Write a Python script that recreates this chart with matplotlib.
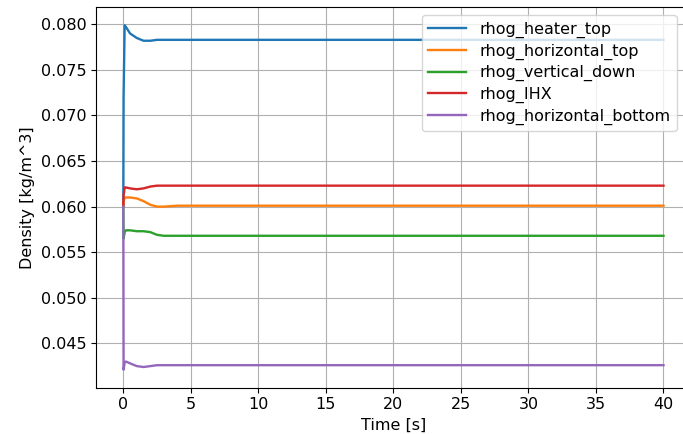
import matplotlib.pyplot as plt

# time points [s]
time = [0, 0.02, 0.1, 0.2, 0.5, 1.0, 1.5, 2.0, 2.5, 3.0, 4.0, 40]

rhog_heater_top = [0.0603, 0.0720, 0.0799, 0.0797, 0.0790, 0.0785, 0.0782, 0.0782, 0.0783, 0.0783, 0.0783, 0.0783]
rhog_horizontal_top = [0.0601, 0.0606, 0.0610, 0.0610, 0.0610, 0.0609, 0.0606, 0.0602, 0.0600, 0.0600, 0.0601, 0.0601]
rhog_vertical_down = [0.0600, 0.0565, 0.0572, 0.0574, 0.0574, 0.0573, 0.0573, 0.0572, 0.0569, 0.0568, 0.0568, 0.0568]
rhog_IHX = [0.0601, 0.0612, 0.0621, 0.0621, 0.0620, 0.0619, 0.0620, 0.0622, 0.0623, 0.0623, 0.0623, 0.0623]
rhog_horizontal_bottom = [0.0600, 0.0421, 0.0429, 0.0430, 0.0428, 0.0425, 0.0424, 0.0425, 0.0426, 0.0426, 0.0426, 0.0426]

series = {
    'rhog_heater_top': rhog_heater_top,
    'rhog_horizontal_top': rhog_horizontal_top,
    'rhog_vertical_down': rhog_vertical_down,
    'rhog_IHX': rhog_IHX,
    'rhog_horizontal_bottom': rhog_horizontal_bottom,
}

plt.rcParams['font.size'] = 11.5

fig = plt.figure(figsize=(6.83, 4.34), dpi=100)
# axes deliberately runs past the right edge (reference is a cropped screenshot)
ax = fig.add_axes([96.3 / 683, 1 - 387.7 / 434, 594.2 / 683, 380.4 / 434])

for name, vals in series.items():
    ax.plot(time, vals, label=name, linewidth=1.7)

ax.set_xlim(-2, 42)
ax.set_ylim(0.04013, 0.08187)
ax.set_xticks(range(0, 45, 5))
ax.set_yticks([0.045, 0.050, 0.055, 0.060, 0.065, 0.070, 0.075, 0.080])
ax.set_xlabel('Time [s]')
ax.set_ylabel('Density [kg/m^3]')
ax.grid(True)
ax.legend(loc='upper right', bbox_to_anchor=(0.99, 1.0),
          labelspacing=0.35, handlelength=2.4, handletextpad=0.8)

fig.savefig('out.png', dpi=100)
